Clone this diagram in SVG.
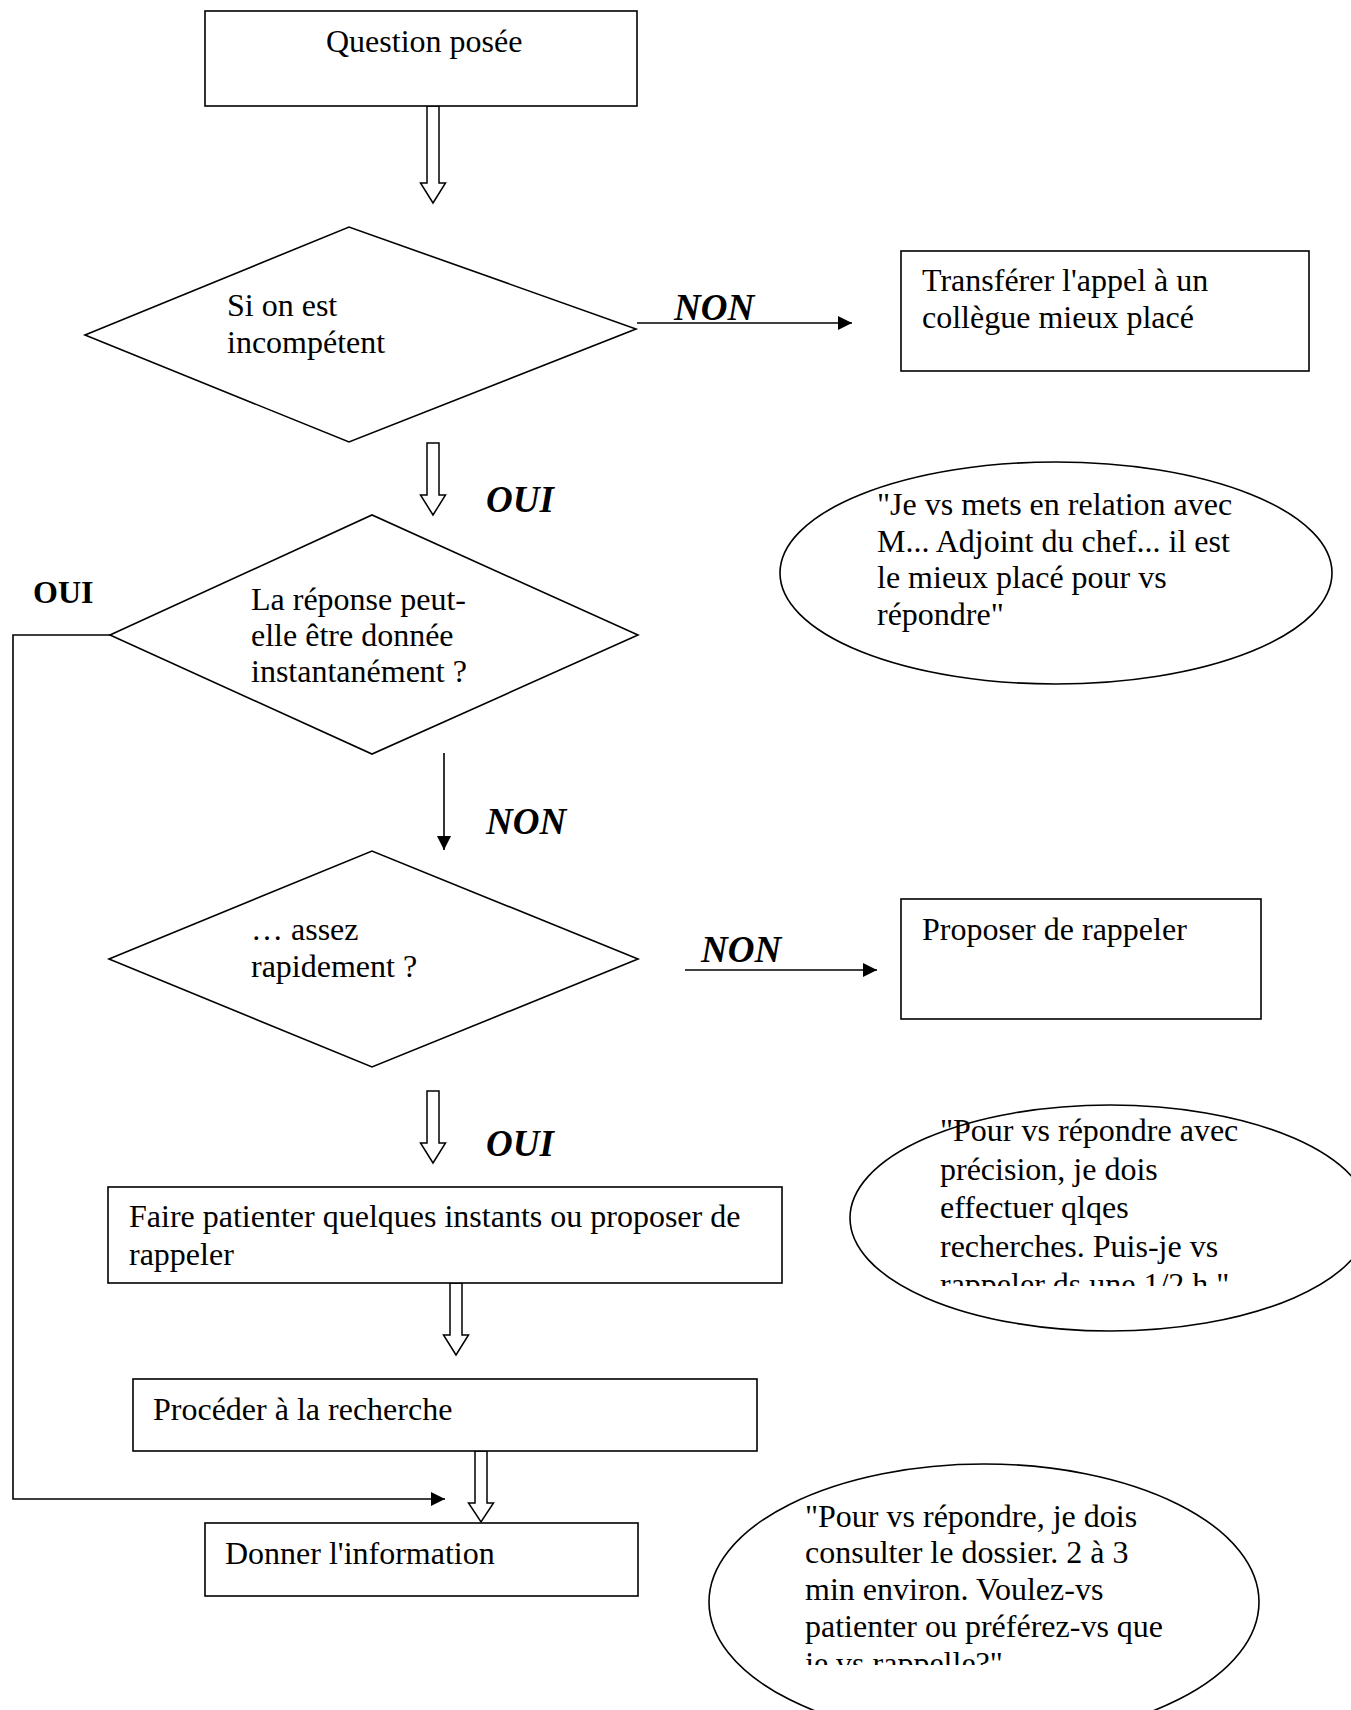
<svg xmlns="http://www.w3.org/2000/svg" width="1351" height="1710" viewBox="0 0 1351 1710">
<style>
.shape{fill:#fff;stroke:#000;stroke-width:1.6}
.hollow{fill:#fff;stroke:#000;stroke-width:1.5}
.line{fill:none;stroke:#000;stroke-width:1.6}
.t{font-family:"Liberation Serif","Times New Roman",serif;font-size:32px;fill:#000}
.lbl{font-family:"Liberation Serif","Times New Roman",serif;font-size:37px;font-weight:bold;font-style:italic;fill:#000}
.lblb{font-family:"Liberation Serif","Times New Roman",serif;font-size:32px;font-weight:bold;fill:#000}
</style>
<defs>
<marker id="ah" markerWidth="14" markerHeight="14" refX="14" refY="7" orient="auto" markerUnits="userSpaceOnUse">
<path d="M0,0 L14,7 L0,14 Z" fill="#000"/>
</marker>
<clipPath id="clipE2"><rect x="800" y="1100" width="551" height="186"/></clipPath>
<clipPath id="clipE3"><rect x="700" y="1480" width="651" height="185"/></clipPath>
</defs>
<rect width="1351" height="1710" fill="#fff"/>

<g id="connectors">
<polygon class="hollow" points="427,106 439,106 439,183 445.5,183 433,203 420.5,183 427,183"/>
<polygon class="hollow" points="427,443 439,443 439,495 445.5,495 433,515 420.5,495 427,495"/>
<polygon class="hollow" points="427,1091 439,1091 439,1143 445.5,1143 433,1163 420.5,1143 427,1143"/>
<polygon class="hollow" points="450,1283 462,1283 462,1335 468.5,1335 456,1355 443.5,1335 450,1335"/>
<polygon class="hollow" points="475,1451 487,1451 487,1503 493.5,1503 481,1522 468.5,1503 475,1503"/>
<line class="line" x1="637" y1="323" x2="852" y2="323" marker-end="url(#ah)"/>
<line class="line" x1="444" y1="753" x2="444" y2="850" marker-end="url(#ah)"/>
<line class="line" x1="685" y1="970" x2="877" y2="970" marker-end="url(#ah)"/>
<polyline class="line" points="110,635 13,635 13,1499 445,1499" marker-end="url(#ah)"/>
<text class="lbl" x="674" y="320">NON</text>
<text class="lbl" x="486" y="512">OUI</text>
<text class="lblb" x="33" y="603">OUI</text>
<text class="lbl" x="486" y="834">NON</text>
<text class="lbl" x="701" y="962">NON</text>
<text class="lbl" x="486" y="1156">OUI</text>
</g>

<g id="question">
<rect class="shape" x="205" y="11" width="432" height="95"/>
<text class="t" x="326" y="52">Question posée</text>
</g>

<g id="decision1">
<polygon class="shape" points="85,335 349,227 636,329 349,442"/>
<text class="t" x="227" y="316">Si on est</text>
<text class="t" x="227" y="353">incompétent</text>
</g>

<g id="transferer">
<rect class="shape" x="901" y="251" width="408" height="120"/>
<text class="t" x="922" y="291">Transférer l'appel à un</text>
<text class="t" x="922" y="328">collègue mieux placé</text>
</g>

<g id="bulle1">
<ellipse class="shape" cx="1056" cy="573" rx="276" ry="111"/>
<text class="t" x="877" y="515">"Je vs mets en relation avec</text>
<text class="t" x="877" y="552">M... Adjoint du chef... il est</text>
<text class="t" x="877" y="588">le mieux placé pour vs</text>
<text class="t" x="877" y="625">répondre"</text>
</g>

<g id="decision2">
<polygon class="shape" points="110,635 372,515 638,635 372,754"/>
<text class="t" x="251" y="610">La réponse peut-</text>
<text class="t" x="251" y="646">elle être donnée</text>
<text class="t" x="251" y="682">instantanément ?</text>
</g>

<g id="decision3">
<polygon class="shape" points="109,959 372,851 638,959 372,1067"/>
<text class="t" x="251" y="940">… assez</text>
<text class="t" x="251" y="977">rapidement ?</text>
</g>

<g id="proposer">
<rect class="shape" x="901" y="899" width="360" height="120"/>
<text class="t" x="922" y="940">Proposer de rappeler</text>
</g>

<g id="bulle2">
<ellipse class="shape" cx="1110" cy="1218" rx="260" ry="113"/>
<g clip-path="url(#clipE2)">
<text class="t" x="940" y="1141">"Pour vs répondre avec</text>
<text class="t" x="940" y="1180">précision, je dois</text>
<text class="t" x="940" y="1218">effectuer qlqes</text>
<text class="t" x="940" y="1257">recherches. Puis-je vs</text>
<text class="t" x="940" y="1295">rappeler ds une 1/2 h."</text>
</g>
</g>

<g id="patienter">
<rect class="shape" x="108" y="1187" width="674" height="96"/>
<text class="t" x="129" y="1227">Faire patienter quelques instants ou proposer de</text>
<text class="t" x="129" y="1265">rappeler</text>
</g>

<g id="recherche">
<rect class="shape" x="133" y="1379" width="624" height="72"/>
<text class="t" x="153" y="1420">Procéder à la recherche</text>
</g>

<g id="donner">
<rect class="shape" x="205" y="1523" width="433" height="73"/>
<text class="t" x="225" y="1564">Donner l'information</text>
</g>

<g id="bulle3">
<ellipse class="shape" cx="984" cy="1602" rx="275" ry="138"/>
<g clip-path="url(#clipE3)">
<text class="t" x="805" y="1527">"Pour vs répondre, je dois</text>
<text class="t" x="805" y="1563">consulter le dossier. 2 à 3</text>
<text class="t" x="805" y="1600">min environ. Voulez-vs</text>
<text class="t" x="805" y="1637">patienter ou préférez-vs que</text>
<text class="t" x="805" y="1674">je vs rappelle?"</text>
</g>
</g>
</svg>
